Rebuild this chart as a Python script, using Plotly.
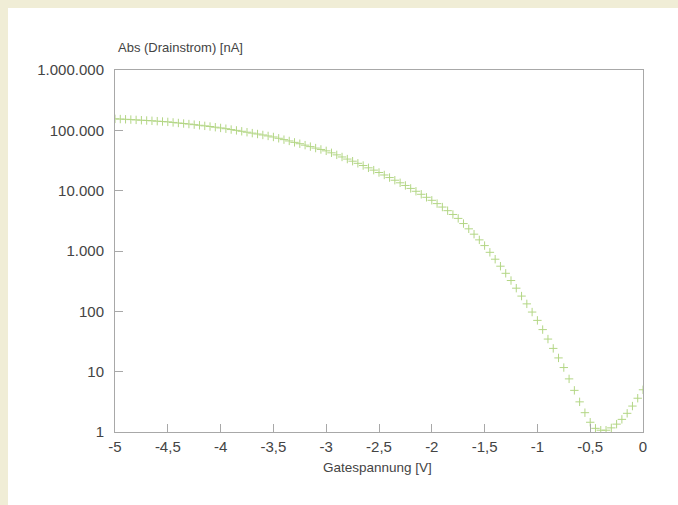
import plotly.graph_objects as go

gate_voltage = [round(-5 + 0.05 * i, 2) for i in range(101)]
drain_current_nA = [
    155000, 153800, 152400, 150700, 148900, 147200, 145500, 143900, 141900, 140000,
    138000, 135200, 132400, 129700, 127100, 124200, 121300, 118600, 115600, 112700,
    109600, 106400, 103000, 99800, 96400, 93100, 89900, 86900, 83800, 80700,
    77600, 73800, 70100, 66700, 63200, 60000, 56800, 53700, 50800, 48200,
    45700, 42400, 39200, 36200, 33400, 30800, 28400, 26100, 23900, 21900,
    20000, 18200, 16500, 14900, 13500, 12200, 10900, 9770, 8710, 7760,
    6920, 6100, 5350, 4660, 4030, 3470, 2850, 2330, 1900, 1530,
    1230, 951, 731, 560, 427, 324, 242, 179, 133, 97.3,
    70.8, 49.8, 34.7, 24.3, 16.9, 11.7, 7.59, 4.90, 3.16, 2.09,
    1.45, 1.15, 1.07, 1.07, 1.17, 1.35, 1.62, 2.04, 2.69, 3.63,
    5.01,
]

x_tickvals = [-5, -4.5, -4, -3.5, -3, -2.5, -2, -1.5, -1, -0.5, 0]
x_ticktext = ["-5", "-4,5", "-4", "-3,5", "-3", "-2,5", "-2", "-1,5", "-1", "-0,5", "0"]
y_tickvals = [1, 10, 100, 1000, 10000, 100000, 1000000]
y_ticktext = ["1", "10", "100", "1.000", "10.000", "100.000", "1.000.000"]

W, H = 678, 505
L, R, T, B = 115, 35, 70, 73
pw, ph = W - L - R, H - T - B

def px(xp):
    return (xp - L) / pw

def py(yp):
    return (H - B - yp) / ph

FONT = "Liberation Sans, Arial, sans-serif"

fig = go.Figure()
fig.add_trace(go.Scatter(
    x=gate_voltage, y=drain_current_nA, mode="markers",
    marker=dict(symbol="cross-thin", size=6, line=dict(width=1, color="#b3d685")),
    showlegend=False,
))

axis_common = dict(
    showline=True, linecolor="#a8a8a8", linewidth=1, mirror=True,
    ticks="inside", ticklen=8, tickcolor="#a8a8a8", tickwidth=1,
    showgrid=False, zeroline=False,
    tickfont=dict(family=FONT, size=15, color="#444444"),
)

fig.update_layout(
    width=W, height=H,
    margin=dict(l=L, r=R, t=T, b=B),
    paper_bgcolor="#f0edd6",
    plot_bgcolor="white",
    xaxis=dict(range=[-5, 0], tickvals=x_tickvals, ticktext=x_ticktext,
               ticklabelstandoff=1, **axis_common),
    yaxis=dict(type="log", range=[0, 6], tickvals=y_tickvals, ticktext=y_ticktext,
               ticklabelstandoff=7, **axis_common),
    shapes=[dict(type="rect", xref="paper", yref="paper", x0=px(8), x1=px(W + 2),
                 y0=py(H + 2), y1=py(8), fillcolor="white", line=dict(width=0), layer="below")],
    annotations=[
        dict(text="Abs (Drainstrom) [nA]", xref="paper", yref="paper", x=px(116), y=py(47),
             xanchor="left", yanchor="middle", showarrow=False,
             font=dict(family=FONT, size=13, color="#444444")),
        dict(text="Gatespannung [V]", xref="paper", yref="paper", x=px(377), y=py(467),
             xanchor="center", yanchor="middle", showarrow=False,
             font=dict(family=FONT, size=13.5, color="#444444")),
    ],
)

fig.write_html("out.html")
